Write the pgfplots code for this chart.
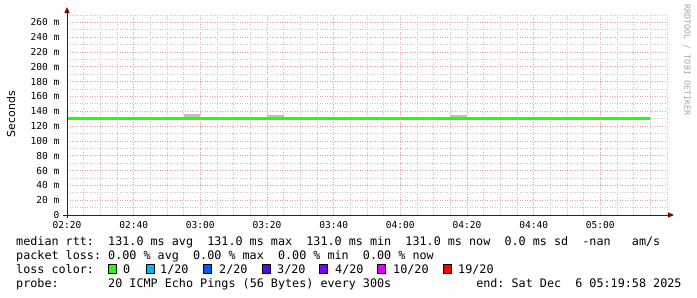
\documentclass[border=0pt]{standalone}
\usepackage{fontspec}
\setmonofont{DejaVu Sans Mono}
\setsansfont{DejaVu Sans}
\usepackage{pgfplots}
\pgfplotsset{compat=1.18}
\usetikzlibrary{arrows.meta}
\definecolor{majgrid}{RGB}{228,160,160}
\definecolor{mingrid}{RGB}{200,200,200}
\definecolor{smoke}{RGB}{192,192,192}
\definecolor{lossA}{HTML}{26FF00}
\definecolor{lossB}{HTML}{00B8FF}
\definecolor{lossC}{HTML}{0059FF}
\definecolor{lossD}{HTML}{5E00FF}
\definecolor{lossE}{HTML}{7E00FF}
\definecolor{lossF}{HTML}{DD00FF}
\definecolor{lossG}{HTML}{FF0000}
\definecolor{arrowred}{RGB}{128,0,0}
\newcommand{\legfont}{\ttfamily\fontsize{11.8}{14}\selectfont\frenchspacing}
\begin{document}
\begin{tikzpicture}[x=1bp,y=1bp]
\path[use as bounding box] (0,0) rectangle (697,-297);
\begin{axis}[
  at={(67bp,-215bp)}, anchor=south west,
  scale only axis, width=600bp, height=200bp,
  xmin=0, xmax=180, ymin=0, ymax=270,
  axis line style={draw=none},
  xtick={0,20,...,160},
  xticklabels={02:20,02:40,03:00,03:20,03:40,04:00,04:20,04:40,05:00},
  minor xtick={5,10,15,25,30,35,45,50,55,65,70,75,85,90,95,105,110,115,125,130,135,145,150,155,165,170,175,180},
  ytick={0,20,...,260},
  yticklabels={0,20 m,40 m,60 m,80 m,100 m,120 m,140 m,160 m,180 m,200 m,220 m,240 m,260 m},
  minor ytick={10,30,...,270},
  grid=both,
  major grid style={majgrid, dash pattern=on 1bp off 1.5bp, line width=0.8bp},
  minor grid style={mingrid, dash pattern=on 1bp off 1.5bp, line width=0.8bp},
  major tick length=0pt, minor tick length=0pt,
  tick label style={font=\ttfamily\fontsize{9.6}{11}\selectfont},
  yticklabel style={anchor=east, inner sep=0pt, xshift=-7.5bp},
  xticklabel style={anchor=north, inner sep=0pt, yshift=-6bp},
  clip=false,
]
\addplot[fill=smoke, draw=none] coordinates {(35,130.5) (40,130.5) (40,136.4) (35,136.4)} --cycle;
\addplot[fill=smoke, draw=none] coordinates {(60,130.5) (65,130.5) (65,135) (60,135)} --cycle;
\addplot[fill=smoke, draw=none] coordinates {(115,130.5) (120,130.5) (120,135) (115,135)} --cycle;
\addplot[const plot, no marks, color=lossA, line width=3bp, line join=miter] coordinates {
(0,130.5) (5,130.5) (10,130.5) (15,130.5) (20,130.5) (25,130.5) (30,130.5) (35,130.5) (40,130.5)
(45,130.5) (50,130.5) (55,130.5) (60,130.5) (65,130.5) (70,130.5) (75,130.5) (80,130.5) (85,130.5)
(90,130.5) (95,130.5) (100,130.5) (105,130.5) (110,130.5) (115,130.5) (120,130.5) (125,130.5)
(130,130.5) (135,130.5) (140,130.5) (145,130.5) (150,130.5) (155,130.5) (160,130.5) (165,130.5)
(170,130.5) (175,130.5)};
\end{axis}
% axes with arrows
\draw[line width=1bp, black!85, -{Triangle[length=6bp,width=5bp,color=arrowred]}] (63,-215) -- (674,-215);
\draw[line width=1bp, black!85, -{Triangle[length=6bp,width=5bp,color=arrowred]}] (67,-218) -- (67,-7);
% y label
\node[rotate=90, font=\sffamily\fontsize{11}{12}\selectfont, inner sep=0pt] at (11,-114) {Seconds};
% watermark
\node[rotate=-90, font=\ttfamily\fontsize{8.4}{10}\selectfont, inner sep=0pt, text=black!35] at (687,-60) {RRDTOOL / TOBI OETIKER};
% legend
\node[anchor=base west, inner sep=0pt, font=\legfont] at (16,-245.5) {median~rtt:~~131.0~ms~avg~~131.0~ms~max~~131.0~ms~min~~131.0~ms~now~~0.0~ms~sd~~-nan~~~am/s};
\node[anchor=base west, inner sep=0pt, font=\legfont] at (16,-259.4) {packet~loss:~0.00~\%~avg~~0.00~\%~max~~0.00~\%~min~~0.00~\%~now};
\node[anchor=base west, inner sep=0pt, font=\legfont] at (16,-273.2) {loss~color:};
\node[anchor=base west, inner sep=0pt, font=\legfont] at (16,-287) {probe:~~~~~~~20~ICMP~Echo~Pings~(56~Bytes)~every~300s~~~~~~~~~~~~end:~Sat~Dec~~6~05:19:58~2025};
\foreach \bx/\lx/\col/\lab in {108/123/lossA/0, 146/160/lossB/1\slash 20, 203/219/lossC/2\slash 20, 262/277/lossD/3\slash 20, 319/335/lossE/4\slash 20, 377/393/lossF/10\slash 20, 443/458/lossG/19\slash 20}{
  \filldraw[fill=\col, draw=black, line width=1bp] (\bx+0.5,-264.5) rectangle (\bx+8,-273.5);
  \node[anchor=base west, inner sep=0pt, font=\legfont] at (\lx,-273.2) {\lab};
}
\end{tikzpicture}
\end{document}
